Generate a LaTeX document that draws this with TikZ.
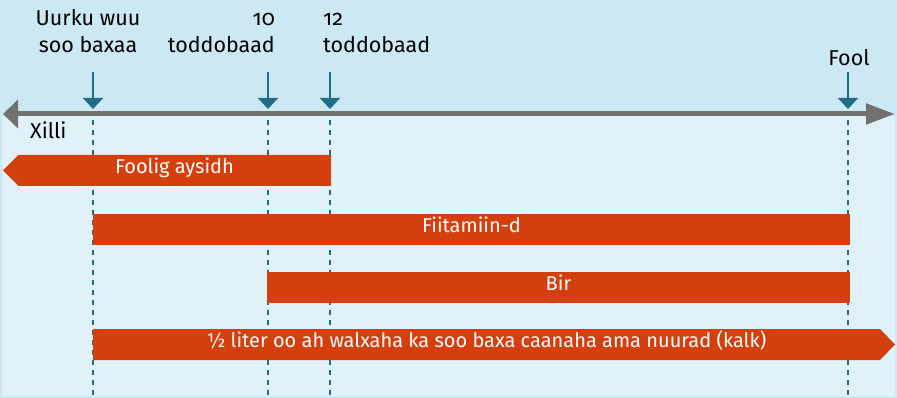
\documentclass[tikz,border=0pt]{standalone}
\usepackage{fontspec}
\setmainfont[Numbers=OldStyle]{Fira Sans}
\usetikzlibrary{arrows.meta}
\definecolor{topbg}{HTML}{CCE8F3}
\definecolor{lowbg}{HTML}{E0F1F8}
\definecolor{axisgray}{HTML}{717171}
\definecolor{teal}{HTML}{1F6E85}
\definecolor{barc}{HTML}{D53F0E}
\tikzset{
  lbl/.style={font=\fontsize{21.5}{25}\selectfont, text=black, inner sep=0pt},
  bartext/.style={font=\fontsize{20}{24}\selectfont, text=white, inner sep=0pt, text height=0.72em, text depth=0.2em},
  marker/.style={draw=teal, line width=2pt, -{Triangle[length=11pt,width=20pt]}},
  guide/.style={draw=teal, line width=2pt, dash pattern=on 5pt off 5pt},
  axisline/.style={draw=axisgray, line width=5pt, {Triangle[length=15pt,width=28pt]}-{Triangle[length=29pt,width=20pt]}},
}
\begin{document}
\begin{tikzpicture}[x=1pt,y=-1pt]
\useasboundingbox (0,0) rectangle (897,398);
\fill[topbg] (0,0) rectangle (897,398);
\fill[lowbg] (2,116) rectangle (895,396);
% guide lines
\foreach \n/\x in {g1/93,g2/268,g3/330,g4/848}{
  \coordinate (\n t) at (\x,120);
  \coordinate (\n b) at (\x,398);
  \draw[guide] (\n t) -- (\n b);
}
% axis
\coordinate (axL) at (3,114);
\coordinate (axR) at (895,114);
\draw[axisline] (axL) -- (axR);
\node[lbl, anchor=base west] (xilli) at (30,139) {Xilli};
% labels
\node[lbl, anchor=base] (l1a) at (88,26) {Uurku wuu};
\node[lbl, anchor=base] (l1b) at (88,53) {soo baxaa};
\node[lbl, anchor=base east] (l2a) at (275,26) {10};
\node[lbl, anchor=base east] (l2b) at (275,53) {toddobaad};
\node[lbl, anchor=base west] (l3a) at (323,26) {12};
\node[lbl, anchor=base west] (l3b) at (323,53) {toddobaad};
\node[lbl, anchor=base] (l4) at (849,66) {Fool};
% markers
\foreach \n/\x in {m1/93,m2/268,m3/330,m4/848}{
  \coordinate (\n t) at (\x,72);
  \coordinate (\n b) at (\x,109);
  \draw[marker] (\n t) -- (\n b);
}
% bars
\fill[barc] (3,170.5) -- (18.5,155) -- (331,155) -- (331,186) -- (18.5,186) -- cycle;
\node[bartext] (b1) at (174.5,170.5) {Foolig aysidh};
\fill[barc] (93,214) rectangle (850,245);
\node[bartext] (b2) at (471.5,229.5) {Fiitamiin-d};
\fill[barc] (267,272) rectangle (850,303);
\node[bartext] (b3) at (558.5,287.5) {Bir};
\fill[barc] (93,329) -- (880,329) -- (895,344.5) -- (880,360) -- (93,360) -- cycle;
\node[bartext] (b4) at (486.5,344.5) {½ liter oo ah walxaha ka soo baxa caanaha ama nuurad (kalk)};
\end{tikzpicture}
\end{document}
